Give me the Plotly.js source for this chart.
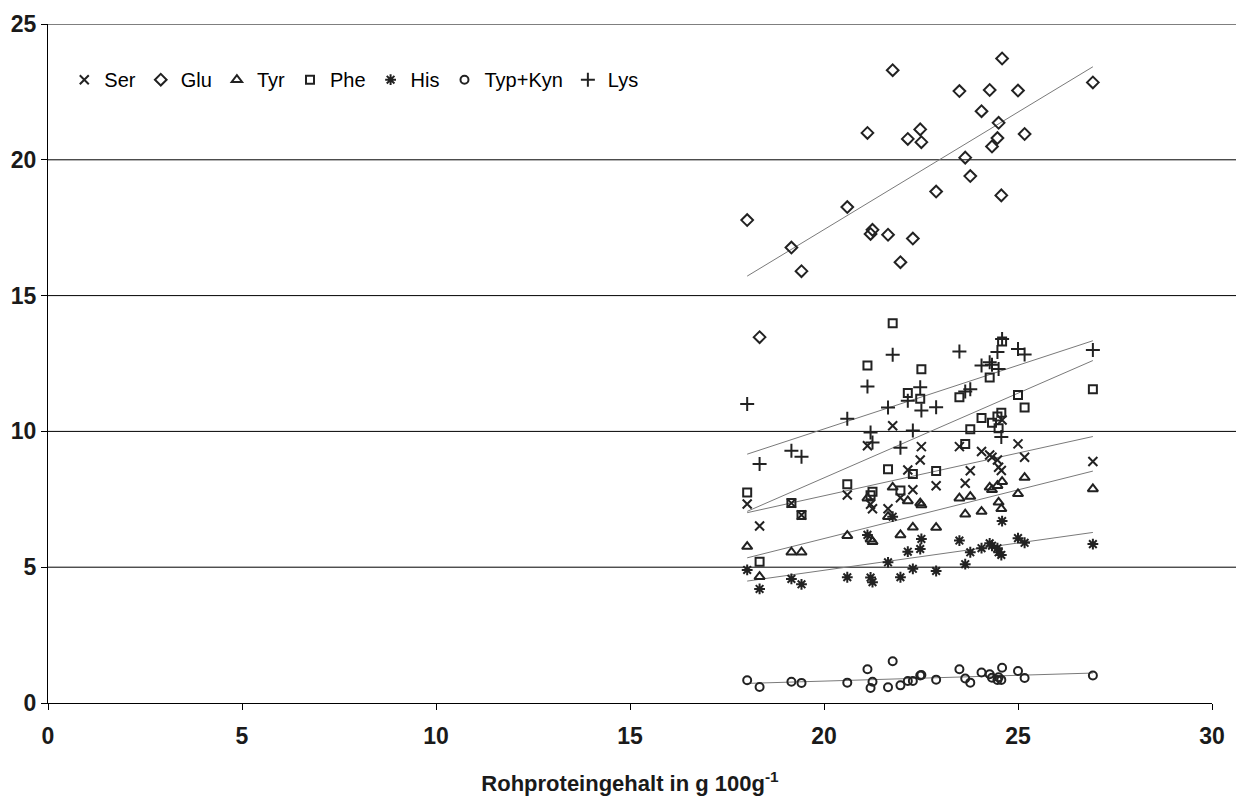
<!DOCTYPE html>
<html>
<head>
<meta charset="utf-8">
<script src="https://cdn.plot.ly/plotly-3.0.1.min.js"></script>
<style>
  html, body { margin: 0; padding: 0; background: #ffffff; }
  #chart { width: 1236px; height: 796px; }
</style>
</head>
<body>
<div id="chart"></div>
<script>
// Rohproteingehalt (g/100g) per sample
const protein = [18.02, 18.34, 19.16, 19.42, 20.60, 21.12, 21.20, 21.25, 21.65, 21.77,
                 21.97, 22.16, 22.29, 22.48, 22.51, 22.89, 23.49, 23.64, 23.77, 24.06,
                 24.27, 24.33, 24.47, 24.50, 24.57, 24.59, 25.00, 25.17, 26.93];

const ser = [7.33, 6.52, 7.36, 6.92, 7.66, 9.47, 7.32, 7.15, 7.15, 10.21,
             7.56, 8.58, 7.85, 8.95, 9.44, 8.00, 9.44, 8.09, 8.55, 9.26,
             9.13, 9.05, 8.95, 8.68, 8.56, 10.42, 9.54, 9.05, 8.89];
const glu = [17.78, 13.47, 16.77, 15.90, 18.26, 20.99, 17.27, 17.42, 17.24, 23.30,
             16.23, 20.77, 17.10, 21.12, 20.65, 18.83, 22.53, 20.08, 19.40, 21.79,
             22.57, 20.49, 20.80, 21.36, 18.69, 23.73, 22.55, 20.95, 22.85];
const tyr = [5.76, 4.65, 5.55, 5.55, 6.16, 7.54, 6.03, 5.94, 6.86, 7.94,
             6.19, 7.44, 6.47, 7.36, 7.29, 6.46, 7.54, 6.95, 7.60, 7.05,
             7.94, 7.85, 8.00, 7.39, 7.15, 8.15, 7.70, 8.30, 7.88];
const phe = [7.75, 5.20, 7.36, 6.92, 8.05, 12.43, 7.65, 7.78, 8.61, 13.98,
             7.82, 11.41, 8.43, 11.20, 12.29, 8.54, 11.26, 9.54, 10.08, 10.49,
             11.98, 10.32, 10.55, 10.12, 10.69, 13.31, 11.34, 10.88, 11.55];
const his = [4.90, 4.20, 4.57, 4.37, 4.63, 6.19, 4.62, 4.45, 5.18, 6.86,
             4.63, 5.57, 4.94, 5.67, 6.04, 4.86, 5.98, 5.11, 5.55, 5.70,
             5.88, 5.79, 5.70, 5.55, 5.45, 6.70, 6.07, 5.90, 5.85];
const typKyn = [0.84, 0.59, 0.78, 0.74, 0.75, 1.24, 0.55, 0.78, 0.58, 1.54,
                0.65, 0.81, 0.81, 1.01, 1.03, 0.86, 1.24, 0.90, 0.75, 1.12,
                1.06, 0.93, 0.85, 0.95, 0.85, 1.30, 1.18, 0.92, 1.01];
const lys = [11.01, 8.80, 9.29, 9.07, 10.47, 11.65, 9.96, 9.59, 10.88, 12.82,
             9.40, 11.13, 10.03, 11.63, 10.77, 10.89, 12.94, 11.47, 11.55, 12.43,
             12.55, 12.45, 12.92, 12.30, 9.79, 13.40, 13.03, 12.83, 13.00];

const seriesNames = ["Ser", "Glu", "Tyr", "Phe", "His", "Typ+Kyn", "Lys"];
const seriesValues = [ser, glu, tyr, phe, his, typKyn, lys];
const seriesSymbols = ["x-thin-open", "diamond-open", "triangle-up-open", "square-open",
                       "asterisk-open", "circle-open", "cross-thin-open"];
const seriesSizes = [9, 9, 9, 8, 9, 8, 10];

const xTicks = [0, 5, 10, 15, 20, 25, 30];
const yTicks = [0, 5, 10, 15, 20, 25];
const xTitle = "Rohproteingehalt in g 100g<sup>-1</sup>";

const FONT = "Liberation Sans, Arial, sans-serif";
const INK = "#222222";

function linFit(xs, ys) {
  const n = xs.length;
  let sx = 0, sy = 0, sxx = 0, sxy = 0;
  for (let i = 0; i < n; i++) { sx += xs[i]; sy += ys[i]; sxx += xs[i]*xs[i]; sxy += xs[i]*ys[i]; }
  const b = (n*sxy - sx*sy) / (n*sxx - sx*sx);
  const a = (sy - b*sx) / n;
  return [a, b];
}

const xMin = Math.min(...protein), xMax = Math.max(...protein);
const traces = [];

// trend lines (drawn first, behind markers)
seriesValues.forEach((vals, i) => {
  const [a, b] = linFit(protein, vals);
  traces.push({
    type: "scatter", mode: "lines",
    x: [xMin, xMax], y: [a + b*xMin, a + b*xMax],
    line: { color: "#7a7a7a", width: 1 },
    showlegend: false, hoverinfo: "skip"
  });
});

seriesValues.forEach((vals, i) => {
  traces.push({
    type: "scatter", mode: "markers",
    name: seriesNames[i],
    x: protein, y: vals,
    marker: { symbol: seriesSymbols[i], size: seriesSizes[i], color: INK,
              line: { color: INK, width: 2 } }
  });
});

const plotW = 1236 - 48 - 24;
const shapes = yTicks.filter(v => v > 0).map(v => ({
  type: "line", xref: "paper", yref: "y",
  x0: 0, x1: 1 + 24 / plotW, y0: v, y1: v,
  line: { color: "#000000", width: 1 }, layer: "below"
}));

const layout = {
  width: 1236, height: 796,
  margin: { l: 48, r: 24, t: 24, b: 93 },
  paper_bgcolor: "#ffffff", plot_bgcolor: "#ffffff",
  showlegend: true,
  legend: {
    orientation: "h", x: 0.014, y: 0.918, xanchor: "left", yanchor: "middle",
    font: { family: FONT, size: 20, color: "#000000" },
    bgcolor: "rgba(0,0,0,0)", itemwidth: 30, tracegroupgap: 0,
    itemclick: false
  },
  xaxis: {
    range: [0, 30], tickvals: xTicks, ticktext: xTicks.map(String),
    showgrid: false, zeroline: false,
    showline: true, linecolor: "#000000", linewidth: 1,
    ticks: "outside", ticklen: 6, tickcolor: "#000000",
    ticklabelstandoff: 6,
    tickfont: { family: FONT, size: 23, color: "#1a1a1a", weight: "bold" },
    title: { text: xTitle, standoff: 30,
             font: { family: FONT, size: 22, color: "#1a1a1a", weight: "bold" } }
  },
  yaxis: {
    range: [0, 25], tickvals: yTicks, ticktext: yTicks.map(String),
    showgrid: false, zeroline: false,
    showline: true, linecolor: "#000000", linewidth: 1,
    ticks: "outside", ticklen: 6, tickcolor: "#000000",
    tickfont: { family: FONT, size: 23, color: "#1a1a1a", weight: "bold" }
  },
  shapes: shapes
};

Plotly.newPlot("chart", traces, layout, { displayModeBar: false, staticPlot: true });
</script>
</body>
</html>
